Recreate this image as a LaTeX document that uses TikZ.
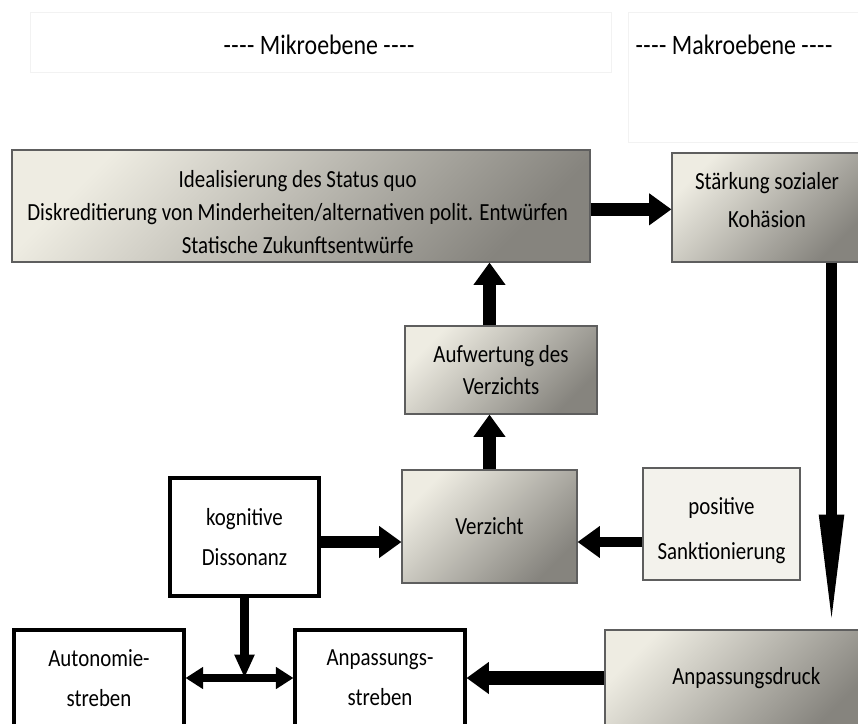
\documentclass[tikz,border=0pt]{standalone}
\usepackage{fontspec}
\setmainfont{Carlito}[FakeStretch=0.85]
\usetikzlibrary{arrows.meta}
\usetikzlibrary{positioning}
\definecolor{boxlight}{HTML}{EEECE2}
\definecolor{boxdark}{HTML}{86847E}
\definecolor{boxpale}{HTML}{F3F2EC}
\definecolor{boxline}{HTML}{5E5E5E}
\definecolor{faint}{HTML}{F2F2F2}
\newcommand{\dashes}{-\kern0.5pt-\kern0.5pt-\kern0.5pt-}

\begin{document}
\begin{tikzpicture}[
				x=0.03cm, y=-0.03cm,
				font=\fontsize{21}{28}\selectfont,
				header/.style={draw=faint, line width=0.6pt},
				headtext/.style={font=\fontsize{24}{28}\selectfont},
				shaded/.style={draw=boxline, line width=0.9pt, top color=boxlight, bottom color=boxdark, shading angle=45, align=center, inner sep=0pt},
				pale/.style={draw=boxline, line width=0.9pt, fill=boxpale, align=center, inner sep=0pt},
				plain/.style={draw, line width=2.6pt, fill=white, align=center, inner sep=0pt},
				arrow/.style={line width=11pt, -{Triangle[length=19pt, width=26pt]}},
				thinarrow/.style={line width=7pt, -{Triangle[length=20pt, width=16pt]}},
				longarrow/.style={line width=9pt, -{Triangle[length=98pt, width=19pt]}},
				dblarrow/.style={line width=7pt, {Triangle[length=15pt, width=18pt]}-{Triangle[length=15pt, width=18pt]}},
			]
				\useasboundingbox (0,0) rectangle (858,724);
				\clip (0,0) rectangle (858,724);
				
				\draw[header] (30,12) rectangle (611,72);
				\draw[header] (628,12) rectangle (880,142);
				\node[headtext] (mikro) at (319,45) {\dashes{} Mikroebene \dashes};
				\node[headtext] (makro) at (734,45) {\dashes{} Makroebene \dashes};
				
				\node[shaded, minimum width=17.34cm, minimum height=3.36cm,
					label={[align=center, yshift=-0.18cm, xshift=-0.1cm]center:Idealisierung des Status quo\\Diskreditierung von Minderheiten/alternativen polit. Entwürfen\\Statische Zukunftsentwürfe}] (status) at (301,206) {};
				\node[shaded, minimum width=5.7cm, minimum height=3.27cm,
					label={[align=center, yshift=0.22cm]center:Stärkung sozialer\\[4pt]Kohäsion}] (kohaesion) at (767,207.5) {};
				\node[shaded, minimum width=5.76cm, minimum height=2.64cm] (aufwertung) at (501,370) {Aufwertung des\\Verzichts};
				\node[shaded, minimum width=5.25cm, minimum height=3.39cm] (verzicht) at (489.5,526.5) {Verzicht};
				\node[pale, minimum width=4.71cm, minimum height=3.36cm,
					label={[align=center, yshift=-0.2cm]center:positive\\[10pt]Sanktionierung}] (sanktion) at (721.5,524) {};
				\node[plain, minimum width=4.47cm, minimum height=3.54cm] (dissonanz) at (244.5,537) {kognitive\\[6pt]Dissonanz};
				\node[plain, minimum width=5.1cm, minimum height=2.88cm] (autonomie) at (99,678) {Autonomie-\\[6pt]streben};
				\node[plain, minimum width=5.1cm, minimum height=2.88cm] (anpassung) at (380,678) {Anpassungs-\\[6pt]streben};
				\node[shaded, minimum width=7.95cm, minimum height=2.88cm] (druck) at (737.5,678) {\hspace*{15pt}Anpassungsdruck};
				
				\draw[arrow] ([yshift=-0.1cm]status.east) -- ([yshift=-0.1cm]status.east -| kohaesion.west);
				\draw[arrow] (verzicht.north |- aufwertung.north) -- (verzicht.north |- status.south);
				\draw[arrow] (verzicht.north) -- (verzicht.north |- aufwertung.south);
				\draw[arrow] ([yshift=-0.15cm]dissonanz.east) -- ([yshift=-0.15cm]dissonanz.east -| verzicht.west);
				\draw[arrow, line width=9pt] ([yshift=-0.54cm]sanktion.west) -- ([yshift=-0.54cm]sanktion.west -| verzicht.east);
				\draw[longarrow] ([xshift=-0.93cm]kohaesion.south east) -- ([xshift=-0.93cm]kohaesion.south east |- druck.north);
				\draw[arrow, line width=12pt] (druck.west) -- (anpassung.east);
				\draw[dblarrow] (autonomie.east) -- (anpassung.west);
				\draw[thinarrow] (dissonanz.south) -- (dissonanz.south |- autonomie.east);
			\end{tikzpicture}
\end{document}
